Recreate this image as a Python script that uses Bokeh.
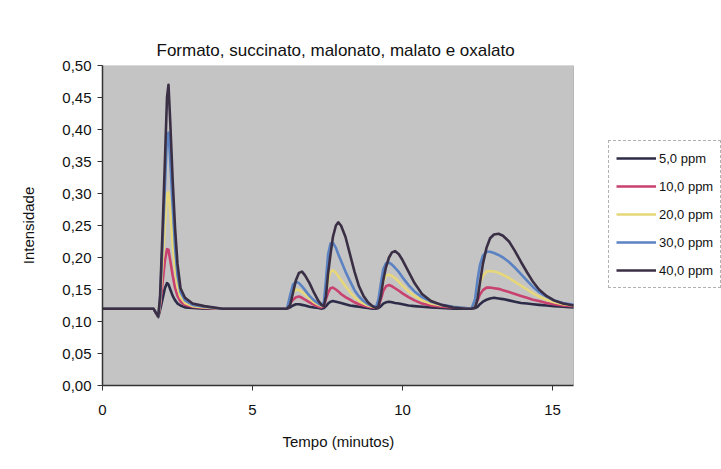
from bokeh.plotting import figure
from bokeh.models import Legend, LegendItem, FixedTicker, BoxAnnotation, Title
from bokeh.embed import file_html
from bokeh.resources import INLINE

# Time (minutes)
tempo = [0.00, 1.60, 1.70, 1.80, 1.86, 1.92, 2.00, 2.08, 2.15, 2.20, 2.26, 2.34, 2.42, 2.50,
         2.60, 2.75, 3.00, 3.40, 4.00, 6.10, 6.15, 6.25, 6.35, 6.45, 6.55, 6.65, 6.75, 6.90,
         7.05, 7.20, 7.30, 7.38, 7.45, 7.52, 7.60, 7.68, 7.78, 7.86, 7.95, 8.10, 8.25, 8.40,
         8.55, 8.70, 8.85, 9.00, 9.12, 9.20, 9.28, 9.36, 9.45, 9.55, 9.65, 9.75, 9.88, 10.00,
         10.20, 10.40, 10.65, 10.95, 11.30, 11.70, 12.10, 12.30, 12.42, 12.50, 12.58, 12.68,
         12.80, 12.92, 13.05, 13.20, 13.35, 13.55, 13.75, 13.95, 14.15, 14.35, 14.55, 14.80,
         15.05, 15.35, 15.70]

ppm_5 = [0.120, 0.120, 0.120, 0.112, 0.107, 0.118, 0.135, 0.152, 0.160, 0.158, 0.150, 0.140, 0.133, 0.128,
         0.125, 0.122, 0.121, 0.120, 0.120, 0.120, 0.120, 0.122, 0.125, 0.127, 0.127, 0.126, 0.125, 0.123,
         0.122, 0.121, 0.120, 0.121, 0.124, 0.128, 0.131, 0.132, 0.131, 0.130, 0.129, 0.127, 0.125, 0.124,
         0.123, 0.122, 0.121, 0.120, 0.120, 0.121, 0.124, 0.128, 0.130, 0.131, 0.130, 0.129, 0.128, 0.127,
         0.125, 0.124, 0.123, 0.122, 0.121, 0.120, 0.120, 0.120, 0.121, 0.123, 0.127, 0.131,
         0.134, 0.136, 0.137, 0.136, 0.135, 0.133, 0.131, 0.129, 0.128, 0.127, 0.126, 0.125,
         0.124, 0.123, 0.122]

ppm_10 = [0.120, 0.120, 0.120, 0.112, 0.108, 0.125, 0.160, 0.195, 0.213, 0.212, 0.195, 0.172, 0.152, 0.140,
          0.131, 0.126, 0.123, 0.121, 0.120, 0.120, 0.120, 0.128, 0.134, 0.138, 0.139, 0.137, 0.134, 0.130,
          0.126, 0.123, 0.122, 0.124, 0.135, 0.145, 0.152, 0.153, 0.150, 0.147, 0.143, 0.138, 0.134, 0.130,
          0.127, 0.125, 0.123, 0.122, 0.121, 0.124, 0.135, 0.148, 0.155, 0.157, 0.155, 0.152, 0.148, 0.144,
          0.138, 0.133, 0.128, 0.125, 0.123, 0.122, 0.121, 0.120, 0.125, 0.133, 0.142, 0.149,
          0.153, 0.153, 0.152, 0.151, 0.149, 0.146, 0.143, 0.140, 0.137, 0.134, 0.132, 0.129,
          0.127, 0.125, 0.124]

ppm_20 = [0.120, 0.120, 0.120, 0.112, 0.108, 0.130, 0.190, 0.250, 0.300, 0.302, 0.270, 0.220, 0.180, 0.155,
          0.138, 0.129, 0.124, 0.122, 0.120, 0.120, 0.120, 0.132, 0.145, 0.150, 0.149, 0.146, 0.142, 0.136,
          0.130, 0.126, 0.124, 0.126, 0.145, 0.165, 0.178, 0.180, 0.176, 0.171, 0.165, 0.155, 0.146, 0.138,
          0.132, 0.128, 0.125, 0.123, 0.122, 0.128, 0.145, 0.163, 0.172, 0.173, 0.171, 0.168, 0.162, 0.156,
          0.147, 0.140, 0.133, 0.128, 0.125, 0.123, 0.121, 0.120, 0.128, 0.145, 0.160, 0.171,
          0.178, 0.179, 0.178, 0.176, 0.173, 0.168, 0.162, 0.156, 0.150, 0.144, 0.139, 0.134,
          0.130, 0.127, 0.125]

ppm_30 = [0.120, 0.120, 0.120, 0.112, 0.108, 0.135, 0.220, 0.310, 0.390, 0.395, 0.350, 0.280, 0.215, 0.172,
          0.146, 0.133, 0.126, 0.123, 0.120, 0.120, 0.120, 0.140, 0.158, 0.162, 0.160, 0.155, 0.149, 0.140,
          0.133, 0.128, 0.125, 0.130, 0.165, 0.205, 0.222, 0.223, 0.215, 0.205, 0.195, 0.178, 0.163, 0.149,
          0.139, 0.132, 0.127, 0.124, 0.123, 0.135, 0.160, 0.182, 0.191, 0.192, 0.189, 0.184, 0.177, 0.169,
          0.157, 0.147, 0.138, 0.131, 0.126, 0.123, 0.121, 0.120, 0.135, 0.165, 0.188, 0.203,
          0.209, 0.209, 0.207, 0.204, 0.200, 0.193, 0.184, 0.174, 0.164, 0.154, 0.146, 0.139,
          0.133, 0.129, 0.126]

ppm_40 = [0.120, 0.120, 0.120, 0.112, 0.108, 0.140, 0.240, 0.350, 0.450, 0.470, 0.410, 0.320, 0.245, 0.190,
          0.152, 0.137, 0.128, 0.124, 0.120, 0.120, 0.120, 0.125, 0.145, 0.165, 0.176, 0.178, 0.172, 0.160,
          0.145, 0.132, 0.126, 0.124, 0.140, 0.175, 0.205, 0.232, 0.250, 0.255, 0.250, 0.232, 0.205, 0.178,
          0.155, 0.140, 0.130, 0.124, 0.121, 0.124, 0.140, 0.165, 0.185, 0.200, 0.208, 0.210, 0.205, 0.196,
          0.178, 0.160, 0.143, 0.132, 0.126, 0.122, 0.120, 0.120, 0.122, 0.135, 0.160, 0.190,
          0.215, 0.230, 0.236, 0.237, 0.234, 0.225, 0.210, 0.193, 0.177, 0.162, 0.150, 0.140,
          0.133, 0.128, 0.125]

series_labels = ["5,0 ppm", "10,0 ppm", "20,0 ppm", "30,0 ppm", "40,0 ppm"]
series_values = [ppm_5, ppm_10, ppm_20, ppm_30, ppm_40]
series_colors = ["#2c2c48", "#c8416f", "#e6d77a", "#5b82c2", "#3a2f45"]

y_ticks = [0.00, 0.05, 0.10, 0.15, 0.20, 0.25, 0.30, 0.35, 0.40, 0.45, 0.50]
x_ticks = [0, 5, 10, 15]

X_MAX = 15.7      # end of the time axis
Y_MAX = 0.5

FONT = "Liberation Sans"

# plot area 102..573 px wide for 0..15.7 min; frame is extended to the right edge
# of the page so that the legend (outside the plot area) is not clipped
PX_PER_MIN = 471 / X_MAX
x_end = X_MAX + 148 / PX_PER_MIN

p = figure(width=721, height=469, output_backend="svg", toolbar_location=None,
           x_range=(0, x_end), y_range=(0, Y_MAX),
           title="Formato, succinato, malonato, malato e oxalato",
           min_border_left=102, min_border_right=0, min_border_top=65, min_border_bottom=84)

p.background_fill_color = "white"
p.border_fill_color = "white"
p.outline_line_color = None
p.xgrid.visible = False
p.ygrid.visible = False

plot_area = BoxAnnotation(left=0, right=X_MAX, bottom=0, top=Y_MAX,
                          fill_color="#c4c4c4", fill_alpha=1.0,
                          line_color="#555555", line_width=1, level="underlay")
p.add_layout(plot_area)

p.title.align = "left"
p.title.offset = 54
p.title.text_font = FONT
p.title.text_font_size = "17px"
p.title.text_font_style = "normal"
p.title.text_color = "#111111"
p.title.standoff = 12

p.xaxis.ticker = FixedTicker(ticks=x_ticks)
p.yaxis.ticker = FixedTicker(ticks=y_ticks)
p.yaxis.major_label_overrides = {t: f"{t:.2f}".replace(".", ",") for t in y_ticks}
p.xaxis.major_label_overrides = {t: str(t) for t in x_ticks}
p.xaxis.bounds = (0, X_MAX)

for ax in (p.xaxis, p.yaxis):
    ax.axis_line_color = "#333333"
    ax.axis_line_width = 1.5
    ax.major_tick_line_color = "#333333"
    ax.major_tick_out = 5
    ax.major_tick_in = 0
    ax.minor_tick_line_color = None
    ax.major_label_text_font = FONT
    ax.major_label_text_font_size = "15px"
    ax.major_label_text_color = "#111111"
    ax.axis_label_text_font = FONT
    ax.axis_label_text_font_size = "15px"
    ax.axis_label_text_font_style = "normal"
    ax.axis_label_text_color = "#111111"

p.yaxis.axis_label = "Intensidade"
p.xaxis.major_label_standoff = 14
p.yaxis.major_label_standoff = 6
p.yaxis.axis_label_standoff = 22

# x-axis title centred under the plot area (not under the extended frame)
x_title = Title(text="Tempo (minutos)", align="left", offset=180, standoff=27,
                text_font=FONT, text_font_size="15px", text_font_style="normal",
                text_color="#111111")
p.add_layout(x_title, "below")

items = []
for lab, vals, col in zip(series_labels, series_values, series_colors):
    r = p.line(tempo, vals, line_color=col, line_width=2.6, line_join="round")
    items.append(LegendItem(label=lab, renderers=[r]))

legend = Legend(items=items, location=(506, 97), orientation="vertical",
                label_text_font=FONT, label_text_font_size="13px", label_text_color="#111111",
                glyph_width=40, glyph_height=20, label_height=20, spacing=8,
                padding=7, margin=0, label_standoff=3,
                border_line_color="#666666", border_line_width=1, border_line_dash="2 1",
                background_fill_color="white", background_fill_alpha=1.0)
p.add_layout(legend, "center")

open("out.html", "w").write(file_html(p, INLINE))
